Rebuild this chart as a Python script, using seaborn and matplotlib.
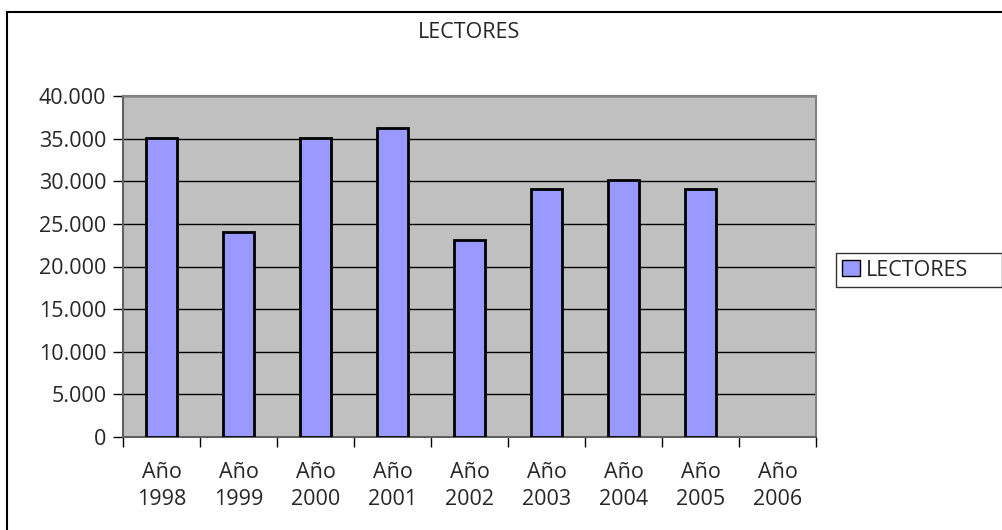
import matplotlib
matplotlib.use("Agg")
import matplotlib.pyplot as plt
import matplotlib.patches as patches
from matplotlib.ticker import FixedLocator, FuncFormatter
import seaborn as sns
import numpy as np
import pandas as pd

# datos
anios = ["Año\n1998", "Año\n1999", "Año\n2000", "Año\n2001", "Año\n2002",
         "Año\n2003", "Año\n2004", "Año\n2005", "Año\n2006"]
lectores = [35100, 24100, 35100, 36200, 23150, 29100, 30100, 29100, np.nan]
y_ticks = [0, 5000, 10000, 15000, 20000, 25000, 30000, 35000, 40000]

sns.set_style("white")
plt.rcParams["font.family"] = ["Open Sans", "DejaVu Sans"]
fs = 15.5

df = pd.DataFrame({"anio": anios, "lectores": lectores})

fig = plt.figure(figsize=(10.03, 5.30), dpi=100)
ax = fig.add_axes([123 / 1003, 1 - 437 / 530, 693 / 1003, 341 / 530])
ax.set_facecolor("#C0C0C0")

sns.barplot(data=df, x="anio", y="lectores", order=anios, color="#9999FF",
            saturation=1, width=0.4, edgecolor="black", linewidth=2,
            label="LECTORES", ax=ax, zorder=3)

ax.set_ylim(0, 40000)
ax.set_xlim(-0.5, len(anios) - 0.5)
ax.yaxis.set_major_locator(FixedLocator(y_ticks))
ax.yaxis.set_major_formatter(FuncFormatter(lambda v, p: f"{v:,.0f}".replace(",", ".")))
ax.grid(axis="y", color="black", linewidth=1, zorder=1)
ax.set_axisbelow(True)

# ticks del eje x entre categorias
ax.xaxis.set_minor_locator(FixedLocator(np.arange(-0.5, len(anios), 1.0)))
ax.tick_params(axis="x", which="major", length=0, pad=18, labelsize=fs)
ax.tick_params(axis="x", which="minor", length=7, width=1, color="black", direction="out")
ax.tick_params(axis="y", length=7, width=1, color="black", direction="out",
               left=True, pad=5, labelsize=fs)
ax.tick_params(axis="x", bottom=True, which="both")
for lbl in ax.get_xticklabels():
    lbl.set_linespacing(1.4)
ax.set_xlabel("")
ax.set_ylabel("")

for side in ["top", "right"]:
    ax.spines[side].set_color("#808080")
    ax.spines[side].set_linewidth(1.5)
for side in ["left", "bottom"]:
    ax.spines[side].set_color("#606060")
    ax.spines[side].set_linewidth(1.5)

fig.text(469 / 1003, 1 - 32 / 530, "LECTORES", ha="center", va="center", fontsize=fs)

leg = ax.legend(loc="lower left", mode="expand",
                bbox_to_anchor=(836 / 1003, 1 - 287 / 530, 166 / 1003, 34 / 530),
                bbox_transform=fig.transFigure, frameon=True, fancybox=False,
                edgecolor="black", handlelength=0.8, handleheight=0.8,
                handletextpad=0.3, borderpad=0.3, borderaxespad=0, fontsize=fs)
leg.get_frame().set_linewidth(1)
leg.get_frame().set_boxstyle("square", pad=0)
for h in leg.legend_handles:
    h.set_linewidth(1)

# borde exterior del grafico
fig.patches.append(patches.Rectangle((7 / 1003, -0.1), 1.2, 1.1 - 12 / 530, fill=False,
                                     edgecolor="black", linewidth=1.5,
                                     transform=fig.transFigure, figure=fig))

fig.savefig("out.png", dpi=100)
